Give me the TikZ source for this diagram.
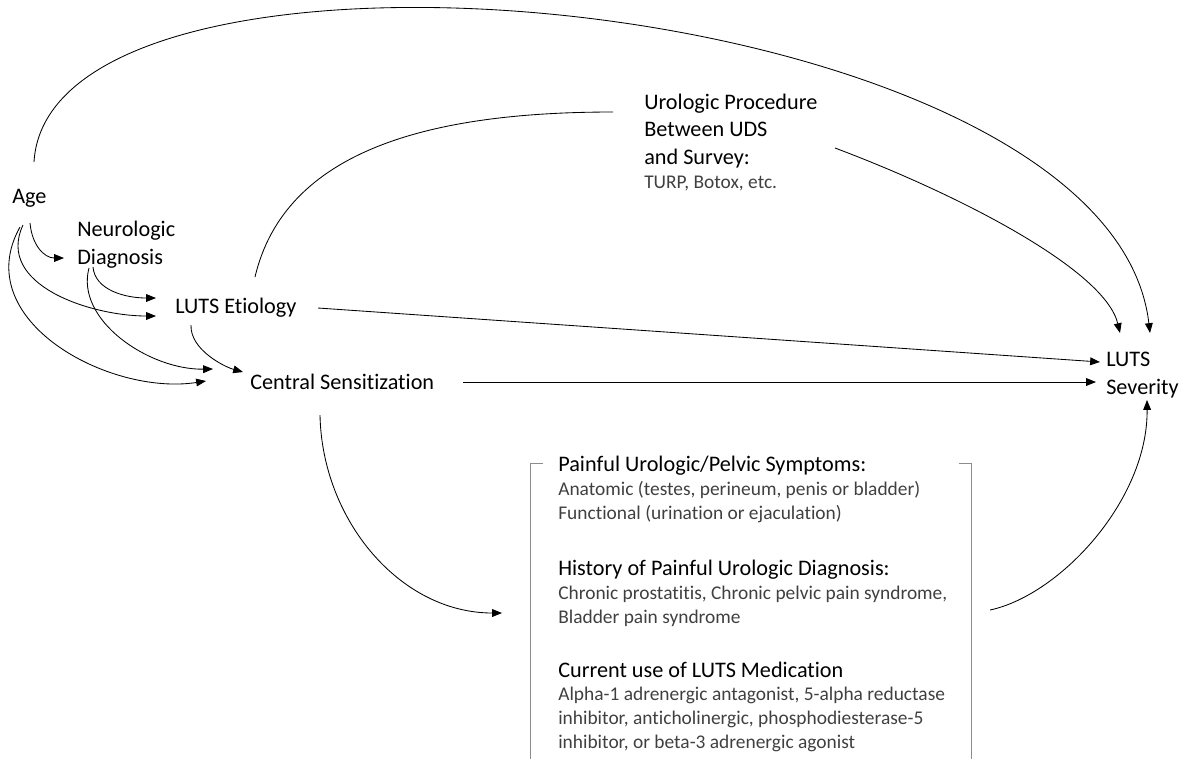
\documentclass[tikz,border=0pt]{standalone}
\usepackage{fontspec}
\setmainfont{Carlito}[Ligatures=CommonOff]
\usepackage{xcolor}
\usetikzlibrary{arrows.meta, calc}

\definecolor{notegray}{HTML}{404040}
\definecolor{bracketgray}{HTML}{8C8C8C}
\newcommand{\factorfont}{\fontsize{15.8pt}{19.4pt}\selectfont}
\newcommand{\notefont}{\fontsize{13.8pt}{16.8pt}\selectfont}

\begin{document}
\begin{tikzpicture}[
        x=0.025cm, y=-0.025cm,
        >={Triangle[length=7pt, width=5.5pt]},
        factor/.style={
            anchor=base west,
            inner sep=0pt,
            align=left,
            font=\factorfont
        },
        group/.style={
            factor,
            font=\notefont,
            text=notegray
        },
        link/.style={->, line width=0.6pt},
        bracket/.style={line width=0.7pt, draw=bracketgray}
    ]
    \useasboundingbox (0,0) rectangle (1194,759);

    % Variables (base = last line)
    \node[factor] (age) at (12,203) {Age};
    \node[factor] (neuro) at (77,264) {Neurologic\\Diagnosis};
    \node[factor] (etio) at (175,313) {LUTS Etiology};
    \node[factor] (cs) at (250,389) {Central Sensitization};
    \node[factor] (uro) at (644,188) {Urologic Procedure\\Between UDS\\and Survey:\\[-2.5pt]{\notefont\color{notegray}TURP, Botox, etc.}};
    \node[factor] (sev) at (1106,394) {LUTS\\Severity};

    % Pain group in brackets
    \node[group] (pain) at (558,519) {{\factorfont\color{black}Painful Urologic/Pelvic Symptoms:}\\Anatomic (testes, perineum, penis or bladder)\\Functional (urination or ejaculation)};
    \node[group] (hist) at (558,623) {{\factorfont\color{black}History of Painful Urologic Diagnosis:}\\Chronic prostatitis, Chronic pelvic pain syndrome,\\Bladder pain syndrome};
    \node[group] (meds) at (558,748) {{\factorfont\color{black}Current use of LUTS Medication}\\Alpha-1 adrenergic antagonist, 5-alpha reductase\\inhibitor, anticholinergic, phosphodiesterase-5\\inhibitor, or beta-3 adrenergic agonist};
    \draw[bracket] (543,463) -- (530,463) -- (530,759);
    \draw[bracket] (959,463) -- (971,463) -- (971,759);

    % Age paths
    \draw[link] ($(age.base west)+(22,-41)$) .. controls +(16,-267) and +(-40,-343) .. ($(sev.base west)+(44,-61)$);
    \draw[link] ($(age.base west)+(18,20)$) .. controls +(2,22) and +(-20,0) .. ($(neuro.base west)+(-13,-6)$);
    \draw[link] ($(age.base west)+(11,22)$) .. controls +(-28,60) and +(-65,0) .. ($(etio.base west)+(-19,3)$);
    \draw[link] ($(age.base west)+(8,24)$) .. controls +(-52,93) and +(-97,15) .. ($(cs.base west)+(-44,-8)$);

    % Diagnosis and etiology paths
    \draw[link] ($(neuro.base west)+(16,3)$) .. controls +(2,23) and +(-31,0) .. ($(etio.base west)+(-19,-15)$);
    \draw[link] ($(neuro.base west)+(12,4)$) .. controls +(-14,52) and +(-64,1) .. ($(cs.base west)+(-37,-20)$);
    \draw[link] ($(etio.base west)+(16,12)$) .. controls +(-1,25) and +(-18,-5) .. ($(cs.base west)+(-7,-17)$);
    \draw[line width=0.6pt] ($(etio.base west)+(80,-36)$) .. controls +(30,-127) and +(-183,0) .. ($(uro.base west)+(-31,-76)$);
    \draw[link] ($(uro.base west)+(191,-40)$) .. controls +(125,47) and +(-15,-63) .. ($(sev.base west)+(14,-61)$);
    \draw[link] ($(etio.base west)+(143,-5)$) -- ($(sev.base west)+(-6,-32)$);
    \draw[link] ($(cs.base west)+(213,-7)$) -- ($(sev.base west)+(-10,-12)$);

    % Through the pain group
    \draw[link] ($(cs.base west)+(70,26)$) .. controls +(2,105) and +(-102,0) .. ($(hist.base west)+(-56,-10)$);
    \draw[link] ($(hist.base west)+(432,-13)$) .. controls +(70,-15) and +(1,100) .. ($(sev.base west)+(41,6)$);
\end{tikzpicture}
\end{document}
